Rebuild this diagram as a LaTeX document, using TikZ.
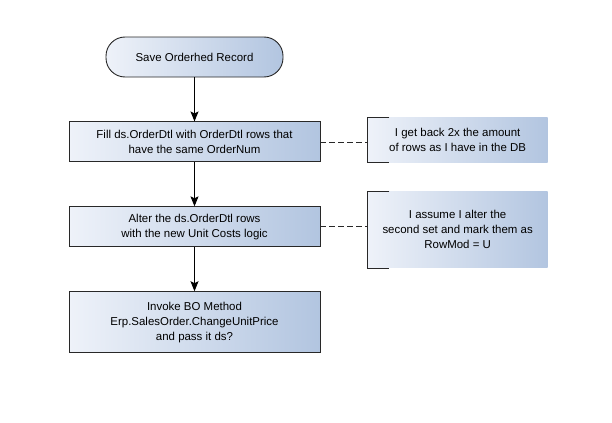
\documentclass[tikz,border=0pt]{standalone}
\usepackage{fontspec}
\setmainfont{Liberation Sans}
\usetikzlibrary{arrows.meta, positioning}
\definecolor{boxleft}{RGB}{238,242,249}
\definecolor{boxright}{RGB}{178,197,224}
\definecolor{edge}{RGB}{40,40,40}

\begin{document}
\begin{tikzpicture}[node distance=44bp,
  every node/.style={font=\fontsize{11.5}{15}\selectfont, align=center},
  flowbox/.style={draw=edge, line width=0.9bp, left color=boxleft, right color=boxright, minimum width=251bp, minimum height=40bp},
  startbox/.style={flowbox, rounded corners=19bp, minimum width=177bp},
  notebox/.style={left color=boxleft, right color=boxright, minimum width=180bp},
  flow/.style={line width=0.9bp, -{Stealth[length=10bp, width=8bp, inset=2bp]}},
  link/.style={line width=0.8bp, edge, dash pattern=on 6bp off 3bp}]
  \useasboundingbox (0,0) rectangle (612bp,-423bp);

  % Main column
  \node (save) [startbox] at (194.5bp,-57bp) {Save Orderhed Record};
  \node (fill) [flowbox, below=of save] {Fill ds.OrderDtl with OrderDtl rows that\\have the same OrderNum};
  \node (alter) [flowbox, below=of fill] {Alter the ds.OrderDtl rows\\with the new Unit Costs logic};
  \node (invoke) [flowbox, below=of alter, minimum height=61bp] {Invoke BO Method\\Erp.SalesOrder.ChangeUnitPrice\\and pass it ds?};
  \draw[flow] (save) -- (fill);
  \draw[flow] (fill) -- (alter);
  \draw[flow] (alter) -- (invoke);

  % Annotations
  \node (rows) [notebox, minimum height=45bp, right=47bp of fill, yshift=2bp] {I get back 2x the amount\\of rows as I have in the DB};
  \node (rowmod) [notebox, minimum height=76bp, right=47bp of alter, yshift=-3bp] {I assume I alter the\\second set and mark them as\\RowMod = U};
  \foreach \n in {rows, rowmod}
    \draw[edge, line width=0.9bp] ([xshift=22bp]\n.north west) -- (\n.north west) -- (\n.south west) -- ([xshift=22bp]\n.south west);
  \draw[link] (fill.east) -- (fill.east -| rows.west);
  \draw[link] (alter.east) -- (alter.east -| rowmod.west);
\end{tikzpicture}
\end{document}
